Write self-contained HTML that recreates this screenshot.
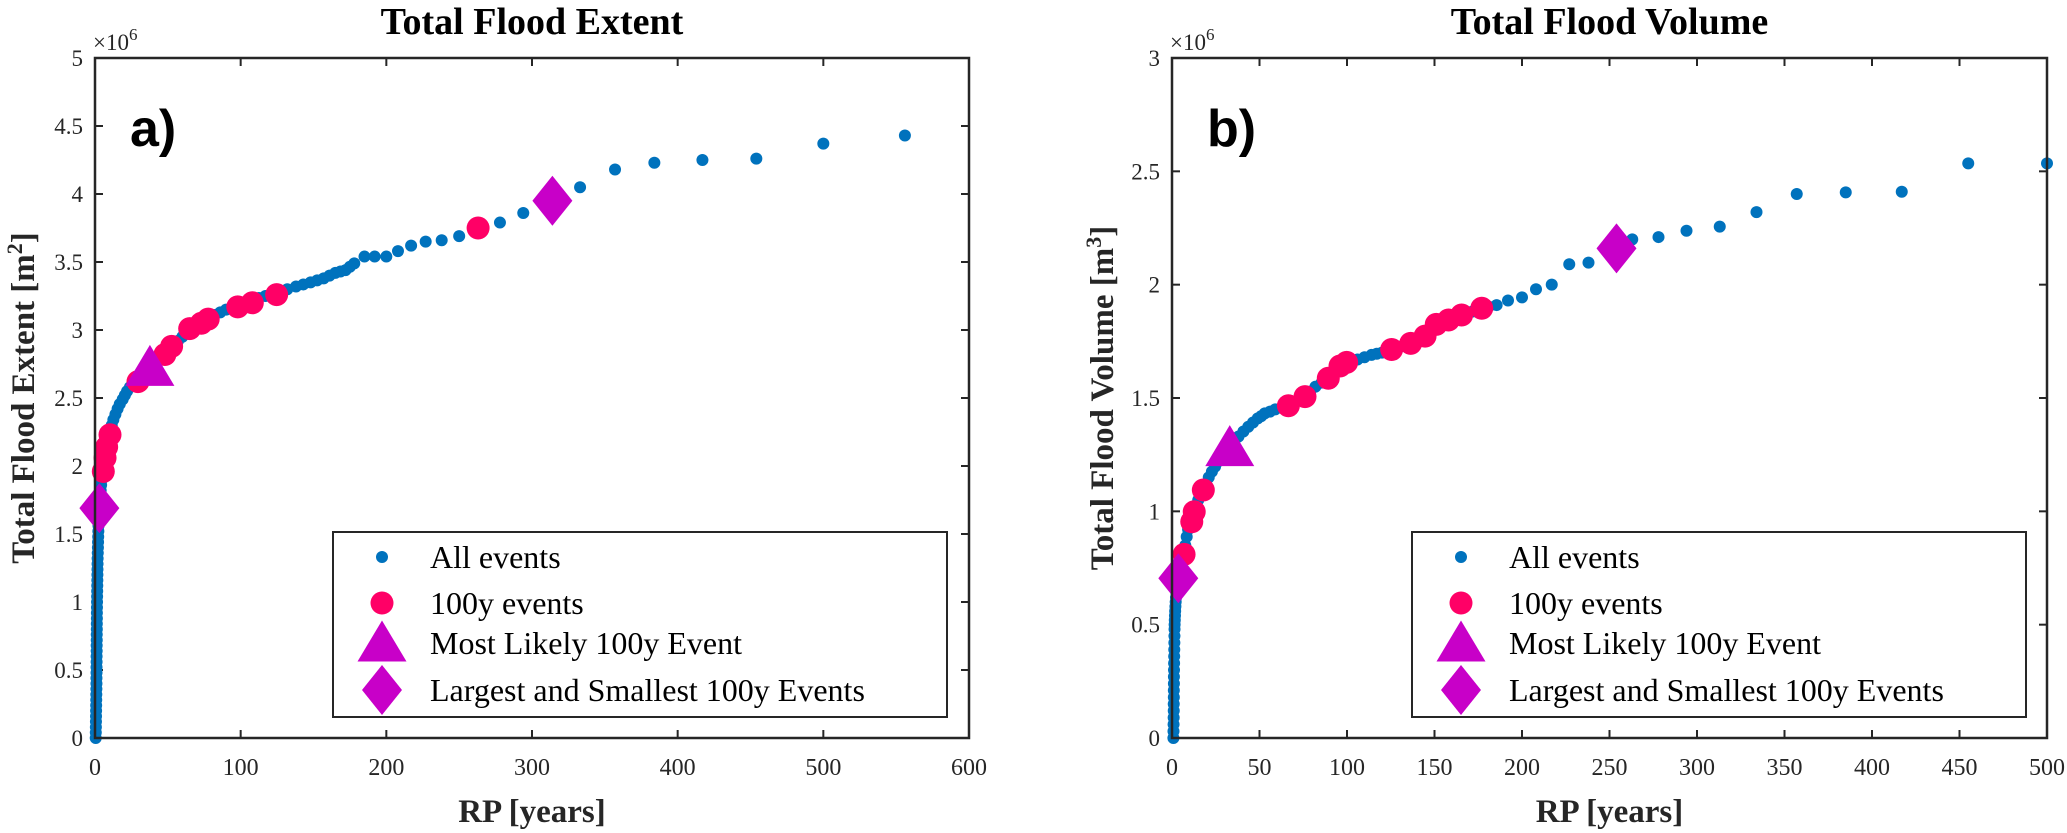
<!DOCTYPE html>
<html><head><meta charset="utf-8">
<style>
html,body{margin:0;padding:0;background:#fff;}
svg{display:block;}
</style></head>
<body>
<svg id="fig" width="2067" height="833" viewBox="0 0 2067 833" xmlns="http://www.w3.org/2000/svg" font-family="Liberation Serif, serif"></svg>
<script>
// ---- Panel a) data: Total Flood Extent (values in 1e6 m^2) ----
const extentAllRP = [0.5,0.55,0.6,0.65,0.7,0.75,0.8,0.85,0.9,0.95,1.0,1.0,1.05,1.05,1.1,1.1,1.15,1.15,1.2,1.2,1.25,1.25,1.3,1.3,1.35,1.4,1.45,1.5,1.55,1.6,1.65,1.7,1.75,1.8,1.9,2.0,2.1,2.2,2.3,2.4,2.5,2.6,2.7,2.8,
 3,3.3,3.6,3.9,4.2,4.6,5,5.5,6,6.5,7,7.7,8.5,9.5,10.5,11.5,12.6,14,15.5,17,19,20.5,22,24,26,28.5,31,33.5,36,39,42,45,48,51,54,57,60,63.5,67,70.5,74,78,82,86,90,94.5,99,103.5,108,112.5,117,122,127,132,138,143,148,152.5,157,161,165,168.5,172,175,178,
 185,192,200,208,217,227,238,250,278,294,333,357,384,417,454,500,556];
const extentAllVal = [0.0,0.04,0.08,0.12,0.16,0.2,0.24,0.28,0.32,0.36,0.4,0.44,0.48,0.52,0.56,0.6,0.64,0.68,0.72,0.76,0.8,0.84,0.88,0.92,0.96,1.0,1.04,1.08,1.12,1.16,1.2,1.24,1.28,1.32,1.36,1.4,1.44,1.48,1.52,1.56,1.6,1.63,1.66,1.68,
 1.7,1.74,1.78,1.82,1.86,1.90,1.94,1.98,2.02,2.06,2.10,2.14,2.18,2.22,2.26,2.30,2.34,2.38,2.42,2.455,2.49,2.52,2.55,2.58,2.61,2.64,2.67,2.695,2.72,2.75,2.78,2.805,2.83,2.86,2.89,2.92,2.95,2.98,3.01,3.035,3.06,3.085,3.11,3.13,3.15,3.17,3.19,3.205,3.22,3.235,3.25,3.265,3.28,3.30,3.32,3.335,3.35,3.365,3.38,3.40,3.42,3.43,3.44,3.465,3.49,
 3.54,3.54,3.54,3.58,3.62,3.65,3.66,3.69,3.79,3.86,4.05,4.18,4.23,4.25,4.26,4.37,4.43];
const extent100RP = [5.7,6.9,8,10.3,29.5,48,52.6,65,73,77.7,98,108,124.7,263];
const extent100Val = [1.96,2.06,2.14,2.23,2.62,2.82,2.88,3.01,3.05,3.08,3.17,3.20,3.26,3.75];
const extentLikelyRP = [37.7];
const extentLikelyVal = [2.74];
const extentExtremeRP = [3, 314];
const extentExtremeVal = [1.69, 3.95];
const extentXTicks = [0,100,200,300,400,500,600];
const extentYTicks = [0,0.5,1,1.5,2,2.5,3,3.5,4,4.5,5];

// ---- Panel b) data: Total Flood Volume (values in 1e6 m^3) ----
const volumeAllRP = [0.8,0.85,0.9,0.95,1.0,1.0,1.05,1.05,1.1,1.1,1.15,1.2,1.25,1.3,1.35,1.4,1.45,1.5,1.6,1.7,1.8,1.95,2.1,2.3,2.5,2.7,
 3.6,4.3,5,6,6.9,7.6,8.4,9.2,10,11.3,12.7,13.8,15,16.5,18,19.5,21,22.8,24.6,26.3,28,30.5,33,35.5,38,40.8,43.6,46.3,49,51,53,56,59,62.8,66.5,69.3,72,76,79,82,85.5,89,92.5,96,100,103,106,110,114,117,120,125.5,131,136,140.5,145,148,151,154.5,158,162,166,171.5,177,181,185.5,192,200,
 208,217,227,238,263,278,294,313,334,357,385,417,455,500];
const volumeAllVal = [0,0.03,0.06,0.09,0.12,0.15,0.18,0.21,0.24,0.27,0.3,0.33,0.36,0.39,0.42,0.45,0.48,0.5,0.52,0.54,0.56,0.58,0.6,0.62,0.64,0.67,
 0.705,0.73,0.76,0.785,0.81,0.85,0.888,0.92,0.95,0.975,1.0,1.025,1.05,1.072,1.094,1.12,1.15,1.175,1.197,1.22,1.24,1.26,1.28,1.305,1.33,1.352,1.373,1.392,1.41,1.42,1.432,1.44,1.45,1.458,1.466,1.478,1.49,1.506,1.528,1.55,1.568,1.587,1.614,1.641,1.657,1.664,1.67,1.68,1.69,1.695,1.70,1.714,1.728,1.741,1.757,1.773,1.80,1.825,1.835,1.844,1.855,1.866,1.881,1.896,1.903,1.91,1.93,1.944,
 1.98,2.0,2.09,2.097,2.20,2.21,2.238,2.256,2.32,2.40,2.407,2.41,2.535,2.535];
const volume100RP = [6.9,11.3,12.7,17.9,66.5,76,89.3,96,99.8,125.5,136.4,144.6,151,158,165.5,177];
const volume100Val = [0.81,0.954,0.998,1.094,1.466,1.506,1.587,1.641,1.657,1.714,1.741,1.773,1.825,1.844,1.866,1.896];
const volumeLikelyRP = [33];
const volumeLikelyVal = [1.29];
const volumeExtremeRP = [3.6, 254];
const volumeExtremeVal = [0.705, 2.16];
const volumeXTicks = [0,50,100,150,200,250,300,350,400,450,500];
const volumeYTicks = [0,0.5,1,1.5,2,2.5,3];

const legendLabels = ["All events","100y events","Most Likely 100y Event","Largest and Smallest 100y Events"];

const NS = "http://www.w3.org/2000/svg";
const svg = document.getElementById('fig');
function mk(tag, attrs, parent){
  const e = document.createElementNS(NS, tag);
  for (const k in attrs) e.setAttribute(k, attrs[k]);
  (parent||svg).appendChild(e);
  return e;
}
const BLUE="#0072BD", RED="#FF0066", MAG="#C800C8", AX="#262626";

function tri(g, cx, cy, name){
  const w=49, h=41;
  const p = mk('polygon',{points:`${cx-w/2},${cy+h/2} ${cx+w/2},${cy+h/2} ${cx},${cy-h/2}`, fill:MAG}, g);
  
  
}
function dia(g, cx, cy, name){
  const w=40, h=50;
  const p = mk('polygon',{points:`${cx},${cy-h/2} ${cx+w/2},${cy} ${cx},${cy+h/2} ${cx-w/2},${cy}`, fill:MAG}, g);
  
  
}

function panel(o){
  const g = mk('g',{});
  
  
  const X = v => o.x0 + (v - o.xmin)/(o.xmax-o.xmin)*(o.x1-o.x0);
  const Y = v => o.y0 - (v - o.ymin)/(o.ymax-o.ymin)*(o.y0-o.y1);

  o.xTicks.forEach(t=>{
    const x=X(t);
    const l1 = mk('line',{x1:x,y1:o.y0,x2:x,y2:o.y0-8,stroke:AX,'stroke-width':2},g);
     
    const l2 = mk('line',{x1:x,y1:o.y1,x2:x,y2:o.y1+8,stroke:AX,'stroke-width':2},g);
     
    const tx = mk('text',{x:x,y:o.y0+37,'text-anchor':'middle','font-size':24,fill:AX},g);
    tx.textContent = String(t);
     
  });
  o.yTicks.forEach(t=>{
    const y=Y(t);
    const l1 = mk('line',{x1:o.x0,y1:y,x2:o.x0+8,y2:y,stroke:AX,'stroke-width':2},g);
     
    const l2 = mk('line',{x1:o.x1,y1:y,x2:o.x1-8,y2:y,stroke:AX,'stroke-width':2},g);
     
    const tx = mk('text',{x:o.x0-12,y:y+8,'text-anchor':'end','font-size':23,fill:AX},g);
    tx.textContent = String(t);
     
  });
  const ex = mk('text',{x:o.x0-2,y:o.y1-8,'font-size':23,fill:AX},g);
  ex.innerHTML = '×10<tspan dy="-10" font-size="17">6</tspan>';
   

  o.allX.forEach((v,i)=>{
    const c = mk('circle',{cx:X(v),cy:Y(o.allY[i]),r:6,fill:BLUE},g);
     
  });
  o.redX.forEach((v,i)=>{
    const c = mk('circle',{cx:X(v),cy:Y(o.redY[i]),r:11.5,fill:RED},g);
     
  });
  o.triX.forEach((v,i)=>tri(g,X(v),Y(o.triY[i]),'most-likely-100y-marker'));
  o.diaX.forEach((v,i)=>dia(g,X(v),Y(o.diaY[i]),'extreme-100y-marker'));

  const fr = mk('rect',{x:o.x0,y:o.y1,width:o.x1-o.x0,height:o.y0-o.y1,fill:'none',stroke:AX,'stroke-width':2.5},g);
   

  const cx=(o.x0+o.x1)/2;
  const t = mk('text',{x:cx,y:34,'text-anchor':'middle','font-size':38,'font-weight':'bold',fill:'#000'},g);
  t.textContent=o.title;  
  const xl = mk('text',{x:cx,y:822,'text-anchor':'middle','font-size':33,'font-weight':'bold',fill:'#262626'},g);
  xl.textContent='RP [years]';  
  const yc=(o.y0+o.y1)/2;
  const yl = mk('text',{x:o.ylx,y:yc,'text-anchor':'middle','font-size':33,'font-weight':'bold',fill:'#262626',transform:`rotate(-90 ${o.ylx} ${yc})`},g);
  yl.innerHTML=o.ylabel;  
  const pl = mk('text',{x:o.x0+35,y:146,'font-size':52,'font-weight':'bold',fill:'#000',style:'font-family:"Liberation Sans",Arial,sans-serif'},g);
  pl.textContent=o.letter;  

  const lg = mk('g',{},g);
   
  const lr = mk('rect',{x:o.lx,y:532,width:o.lw,height:185,fill:'#fff',stroke:AX,'stroke-width':2},lg);
   
  const rows=[557,603,643,690];
  const mx=o.lx+49;
  const d1 = mk('circle',{cx:mx,cy:rows[0],r:6,fill:BLUE},lg);
   
  const d2 = mk('circle',{cx:mx,cy:rows[1],r:11.5,fill:RED},lg);
   
  tri(lg,mx,rows[2]-2,'legend-likely-marker');
  dia(lg,mx,rows[3],'legend-extreme-marker');
  legendLabels.forEach((s,i)=>{
    const tx = mk('text',{x:o.lx+97,y:rows[i]+11,'font-size':32,fill:'#000'},lg);
    tx.textContent=s;
     
  });
}

panel({id:'extent',x0:95,x1:969,y0:738,y1:58,xmin:0,xmax:600,ymin:0,ymax:5,
  xTicks:extentXTicks,yTicks:extentYTicks,allX:extentAllRP,allY:extentAllVal,redX:extent100RP,redY:extent100Val,
  triX:extentLikelyRP,triY:extentLikelyVal,diaX:extentExtremeRP,diaY:extentExtremeVal,
  title:'Total Flood Extent',ylabel:'Total Flood Extent [m<tspan dy="-12" font-size="22">2</tspan><tspan dy="12">]</tspan>',ylx:34,letter:'a)',lx:333,lw:614});
panel({id:'volume',x0:1172,x1:2047,y0:738,y1:58,xmin:0,xmax:500,ymin:0,ymax:3,
  xTicks:volumeXTicks,yTicks:volumeYTicks,allX:volumeAllRP,allY:volumeAllVal,redX:volume100RP,redY:volume100Val,
  triX:volumeLikelyRP,triY:volumeLikelyVal,diaX:volumeExtremeRP,diaY:volumeExtremeVal,
  title:'Total Flood Volume',ylabel:'Total Flood Volume [m<tspan dy="-12" font-size="22">3</tspan><tspan dy="12">]</tspan>',ylx:1113,letter:'b)',lx:1412,lw:614});
</script>
</body></html>
